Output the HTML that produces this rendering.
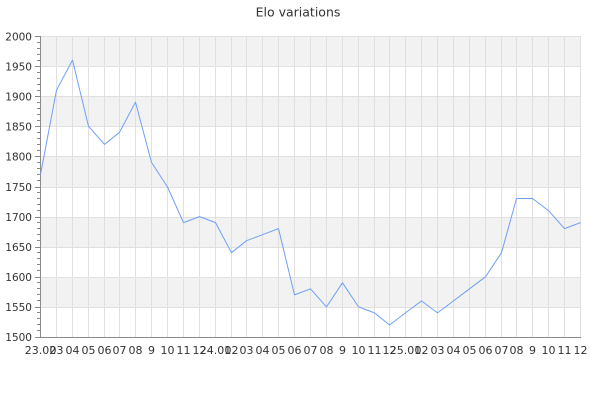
<!DOCTYPE html>
<html><head><meta charset="utf-8"><style>
html,body{margin:0;padding:0;background:#fff;}
svg{display:block;}
text{font-family:"DejaVu Sans","Liberation Sans",sans-serif;fill:#333;}
</style></head><body>
<svg width="600" height="400" viewBox="0 0 600 400" xmlns="http://www.w3.org/2000/svg">
<rect x="0" y="0" width="600" height="400" fill="#fff"/>
<text x="298" y="16.5" font-size="12.5" text-anchor="middle">Elo variations</text>
<!-- bands -->
<g fill="#f2f2f2">
<rect x="40.5" y="36.5" width="540" height="30"/>
<rect x="40.5" y="96.5" width="540" height="30"/>
<rect x="40.5" y="156.5" width="540" height="31"/>
<rect x="40.5" y="217.5" width="540" height="30"/>
<rect x="40.5" y="277.5" width="540" height="30"/>
</g>
<!-- grid -->
<g stroke="#e0e0e0" stroke-width="1" fill="none">
<path d="M40.5 36.5H580.5M40.5 66.5H580.5M40.5 96.5H580.5M40.5 126.5H580.5M40.5 156.5H580.5M40.5 187.5H580.5M40.5 217.5H580.5M40.5 247.5H580.5M40.5 277.5H580.5M40.5 307.5H580.5"/>
<path d="M56.5 36V337M72.5 36V337M88.5 36V337M104.5 36V337M119.5 36V337M135.5 36V337M151.5 36V337M167.5 36V337M183.5 36V337M199.5 36V337M215.5 36V337M231.5 36V337M246.5 36V337M262.5 36V337M278.5 36V337M294.5 36V337M310.5 36V337M326.5 36V337M342.5 36V337M358.5 36V337M374.5 36V337M389.5 36V337M405.5 36V337M421.5 36V337M437.5 36V337M453.5 36V337M469.5 36V337M485.5 36V337M501.5 36V337M516.5 36V337M532.5 36V337M548.5 36V337M564.5 36V337M580.5 36V337"/>
</g>
<!-- axes -->
<g stroke="#8a8a8a" stroke-width="1" fill="none">
<path d="M40.5 36V338M40 337.5H581"/>
<path d="M35 36.5H40M35 66.5H40M35 96.5H40M35 126.5H40M35 156.5H40M35 187.5H40M35 217.5H40M35 247.5H40M35 277.5H40M35 307.5H40M35 337.5H40"/>
<path d="M37 42.5H40M37 48.5H40M37 54.5H40M37 60.5H40M37 72.5H40M37 78.5H40M37 84.5H40M37 90.5H40M37 102.5H40M37 108.5H40M37 114.5H40M37 120.5H40M37 132.5H40M37 138.5H40M37 144.5H40M37 150.5H40M37 162.5H40M37 168.5H40M37 174.5H40M37 180.5H40M37 192.5H40M37 198.5H40M37 204.5H40M37 210.5H40M37 222.5H40M37 228.5H40M37 234.5H40M37 240.5H40M37 252.5H40M37 258.5H40M37 264.5H40M37 270.5H40M37 282.5H40M37 288.5H40M37 294.5H40M37 300.5H40M37 312.5H40M37 318.5H40M37 324.5H40M37 330.5H40"/>
</g>
<!-- y labels -->
<g font-size="10.5" text-anchor="end">
<text x="32" y="40.5">2000</text>
<text x="32" y="70.5">1950</text>
<text x="32" y="100.5">1900</text>
<text x="32" y="130.5">1850</text>
<text x="32" y="160.5">1800</text>
<text x="32" y="191">1750</text>
<text x="32" y="221">1700</text>
<text x="32" y="251">1650</text>
<text x="32" y="281">1600</text>
<text x="32" y="311">1550</text>
<text x="32" y="341">1500</text>
</g>
<!-- x labels -->
<g font-size="11" text-anchor="middle">
<text x="40.5" y="354">23.02</text>
<text x="56.5" y="354">03</text>
<text x="72.5" y="354">04</text>
<text x="88.5" y="354">05</text>
<text x="104.5" y="354">06</text>
<text x="119.5" y="354">07</text>
<text x="135.5" y="354">08</text>
<text x="151.5" y="354">9</text>
<text x="167.5" y="354">10</text>
<text x="183.5" y="354">11</text>
<text x="199.5" y="354">12</text>
<text x="215.5" y="354">24.01</text>
<text x="231.5" y="354">02</text>
<text x="246.5" y="354">03</text>
<text x="262.5" y="354">04</text>
<text x="278.5" y="354">05</text>
<text x="294.5" y="354">06</text>
<text x="310.5" y="354">07</text>
<text x="326.5" y="354">08</text>
<text x="342.5" y="354">9</text>
<text x="358.5" y="354">10</text>
<text x="374.5" y="354">11</text>
<text x="389.5" y="354">12</text>
<text x="405.5" y="354">25.01</text>
<text x="421.5" y="354">02</text>
<text x="437.5" y="354">03</text>
<text x="453.5" y="354">04</text>
<text x="469.5" y="354">05</text>
<text x="485.5" y="354">06</text>
<text x="501.5" y="354">07</text>
<text x="516.5" y="354">08</text>
<text x="532.5" y="354">9</text>
<text x="548.5" y="354">10</text>
<text x="564.5" y="354">11</text>
<text x="580.5" y="354">12</text>
</g>
<!-- series -->
<polyline fill="none" stroke="#6f9ff5" stroke-width="1" stroke-linejoin="round" points="40.5,174.5 56.5,90.2 72.5,60.1 88.5,126.3 104.5,144.4 119.5,132.3 135.5,102.2 151.5,162.4 167.5,187 183.5,222.6 199.5,216.6 215.5,222.6 231.5,252.7 246.5,240.7 262.5,234.7 278.5,228.6 294.5,294.9 310.5,288.8 326.5,306.9 342.5,282.8 358.5,306.9 374.5,312.9 389.5,325 405.5,312.9 421.5,300.9 437.5,312.9 453.5,300.9 469.5,288.8 485.5,276.8 501.5,252.7 516.5,198.5 532.5,198.5 548.5,210.6 564.5,228.6 580.5,222.6"/>
</svg>
</body></html>
